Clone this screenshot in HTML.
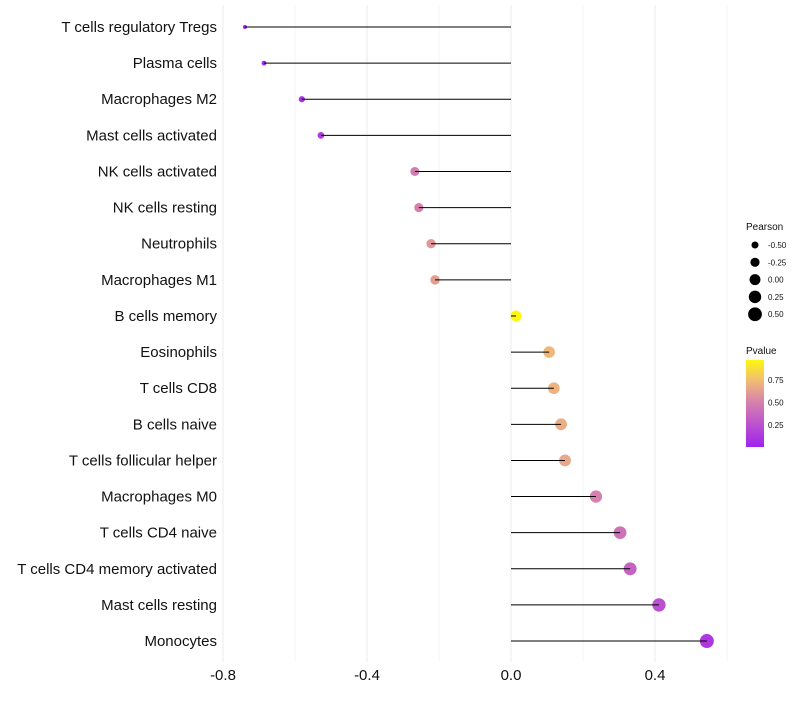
<!DOCTYPE html>
<html><head><meta charset="utf-8"><style>
body{margin:0;background:#fff;font-family:"Liberation Sans",sans-serif}
</style></head><body>
<svg id="chart" width="800" height="700" xmlns="http://www.w3.org/2000/svg"></svg>
<script>
const categories=["T cells regulatory  Tregs","Plasma cells","Macrophages M2","Mast cells activated","NK cells activated","NK cells resting","Neutrophils","Macrophages M1","B cells memory","Eosinophils","T cells CD8","B cells naive","T cells follicular helper","Macrophages M0","T cells CD4 naive","T cells CD4 memory activated","Mast cells resting","Monocytes"];
const pearson=[-0.739,-0.686,-0.581,-0.528,-0.267,-0.256,-0.222,-0.211,0.014,0.106,0.119,0.139,0.15,0.236,0.303,0.331,0.411,0.544];
const pvalue=[0.02,0.03,0.08,0.15,0.48,0.5,0.6,0.62,0.97,0.72,0.7,0.68,0.66,0.5,0.42,0.35,0.25,0.12];
const xTicks=[-0.8,-0.4,0.0,0.4];
const sizeLegend=[-0.5,-0.25,0,0.25,0.5];
const colorTicks=[0.25,0.5,0.75];
const NS="http://www.w3.org/2000/svg",svg=document.getElementById('chart');
const X=v=>511+v*360, Y=i=>27+i*36.12, R=v=>Math.sqrt(Math.max(3,29.9+35*v));
function col(p){const s=[[0,[160,32,240]],[0.5,[213,128,175]],[0.75,[242,190,115]],[1,[255,255,0]]];
for(let k=1;k<s.length;k++){if(p<=s[k][0]){const t=(p-s[k-1][0])/(s[k][0]-s[k-1][0]);const c=s[k-1][1].map((a,j)=>Math.round(a+(s[k][1][j]-a)*t));return `rgb(${c})`;}}return 'rgb(255,255,0)';}
function el(t,a,txt){const e=document.createElementNS(NS,t);for(const k in a)e.setAttribute(k,a[k]);if(txt!=null)e.textContent=txt;svg.appendChild(e);return e;}
[-0.8,-0.6,-0.4,-0.2,0,0.2,0.4,0.6].forEach(v=>{const g=el('line',{x1:X(v),x2:X(v),y1:5,y2:662,stroke:(Math.abs(v*10)%4<0.01)?'#ebebeb':'#f4f4f4','stroke-width':1});

});
xTicks.forEach(v=>{const t=el('text',{x:X(v),y:680,'font-size':15,'text-anchor':'middle',fill:'#111'},v.toFixed(1));

});
categories.forEach((c,i)=>{
const t=el('text',{x:217,y:Y(i)+5,'font-size':15,'text-anchor':'end',fill:'#111'},c);


const d=el('circle',{cx:X(pearson[i]),cy:Y(i),r:R(pearson[i]),fill:col(pvalue[i])});


const l=el('line',{x1:X(0),x2:X(pearson[i]),y1:Y(i),y2:Y(i),stroke:'#000','stroke-width':1});


});
const lt=el('text',{x:746,y:230,'font-size':10,fill:'#111'},'Pearson');


sizeLegend.forEach((v,i)=>{const y=245+i*17.3;
const c=el('circle',{cx:755,cy:y,r:R(v),fill:'#000'});


const t=el('text',{x:768,y:y+3,'font-size':8,fill:'#111'},v.toFixed(2));

});
const pt=el('text',{x:746,y:354,'font-size':10,fill:'#111'},'Pvalue');


const defs=el('defs',{});const lg=document.createElementNS(NS,'linearGradient');lg.setAttribute('id','g');lg.setAttribute('x1',0);lg.setAttribute('y1',1);lg.setAttribute('x2',0);lg.setAttribute('y2',0);defs.appendChild(lg);
for(let k=0;k<=10;k++){const s=document.createElementNS(NS,'stop');s.setAttribute('offset',k/10);s.setAttribute('stop-color',col(0.01+0.96*k/10));lg.appendChild(s);}
const cb=el('rect',{x:746,y:360,width:18,height:87,fill:'url(#g)'});


colorTicks.forEach(v=>{const y=447.5-(v*90);
const t=el('text',{x:768,y:y+3,'font-size':8,fill:'#111'},v.toFixed(2));

});
</script>
</body></html>
